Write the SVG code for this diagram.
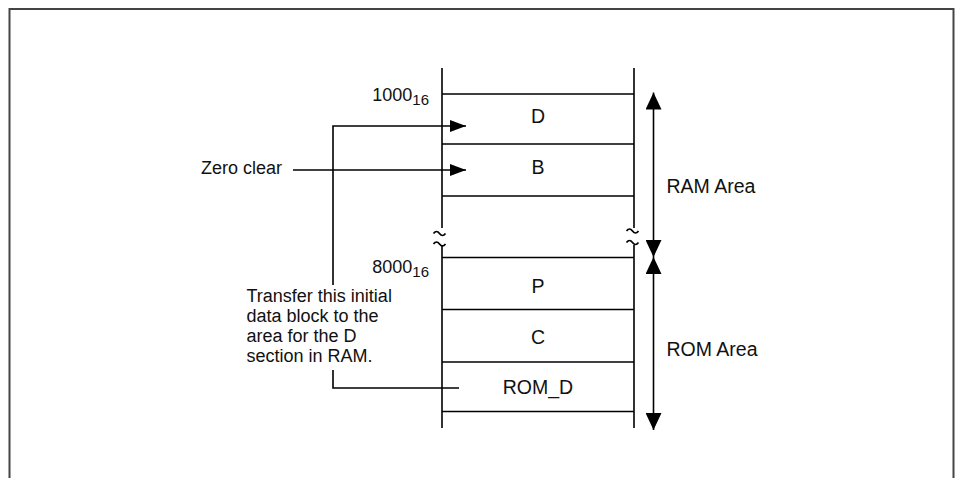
<svg xmlns="http://www.w3.org/2000/svg" width="957" height="478" viewBox="0 0 957 478">
  <style>
    .ln { stroke: #000; stroke-width: 1.6; fill: none; }
    .t { font-family: "Liberation Sans", Arial, sans-serif; font-size: 18px; fill: #111; }
    .c { text-anchor: middle; }
    .sub { font-size: 15px; }
    .big { font-size: 19.5px; }
    .tl { stroke: #000; stroke-width: 1.7; fill: none; }
  </style>
  <defs>
    <marker id="ah" viewBox="0 0 16 12" refX="16" refY="6" markerWidth="16" markerHeight="12" markerUnits="userSpaceOnUse" orient="auto">
      <path d="M0,0 L16,6 L0,12 Z" fill="#000"/>
    </marker>
    <marker id="ahv" viewBox="0 0 17 16" refX="17" refY="8" markerWidth="17" markerHeight="16" markerUnits="userSpaceOnUse" orient="auto">
      <path d="M0,0 L17,8 L0,16 Z" fill="#000"/>
    </marker>
  </defs>

  <!-- outer frame -->
  <path d="M9.5,478 V9 H953.5 V478" fill="none" stroke="#444" stroke-width="2"/>

  <!-- memory column -->
  <g id="column">
    <path class="ln" d="M442,68 V228 M442,245 V428 M634,68 V228 M634,245 V428"/>
    <path class="tl" d="M433.5,233.5 q3,-4 6,0 t6,0 M433.5,244 q3,-4 6,0 t6,0"/>
    <path class="tl" d="M626.5,231 q3,-4 6,0 t6,0 M626.5,242.5 q3,-4 6,0 t6,0"/>
  </g>

  <g id="addr1000">
    <text class="t" x="429" y="101" text-anchor="end">1000<tspan class="sub" dy="3.5">16</tspan></text>
  </g>
  <g id="addr8000">
    <text class="t" x="429" y="273" text-anchor="end">8000<tspan class="sub" dy="3.5">16</tspan></text>
  </g>

  <g id="secD">
    <path class="ln" d="M442,94 H634 M442,144 H634"/>
    <text class="t big c" x="538" y="123">D</text>
  </g>
  <g id="secB">
    <path class="ln" d="M442,196 H634"/>
    <text class="t big c" x="538" y="174">B</text>
  </g>
  <g id="secP">
    <path class="ln" d="M442,257.5 H634 M442,309.5 H634"/>
    <text class="t big c" x="538" y="293">P</text>
  </g>
  <g id="secC">
    <path class="ln" d="M442,362 H634"/>
    <text class="t big c" x="538" y="343.5">C</text>
  </g>
  <g id="secROM_D">
    <path class="ln" d="M442,411.5 H634"/>
    <text class="t big c" x="538" y="393.5">ROM_D</text>
  </g>

  <g id="zeroClear">
    <text class="t" x="201" y="174">Zero clear</text>
  </g>
  <g id="transferNote">
    <text class="t" x="246.5" y="302">Transfer this initial</text>
    <text class="t" x="246.5" y="322">data block to the</text>
    <text class="t" x="246.5" y="342">area for the D</text>
    <text class="t" x="246.5" y="362">section in RAM.</text>
  </g>
  <g id="ramArea">
    <text class="t big" x="666.5" y="192.5">RAM Area</text>
  </g>
  <g id="romArea">
    <text class="t big" x="666.5" y="356">ROM Area</text>
  </g>

  <g id="connectors">
    <path class="ln" d="M333,285 V126 H466" marker-end="url(#ah)"/>
    <path class="ln" d="M293,170 H466" marker-end="url(#ah)"/>
    <path class="ln" d="M333,370 V388 H459"/>
    <path class="ln" d="M653.5,175 V92.5" marker-end="url(#ahv)"/>
    <path class="ln" d="M653.5,175 V257" marker-end="url(#ahv)"/>
    <path class="ln" d="M653.5,340 V257" marker-end="url(#ahv)"/>
    <path class="ln" d="M653.5,340 V430" marker-end="url(#ahv)"/>
  </g>
</svg>
